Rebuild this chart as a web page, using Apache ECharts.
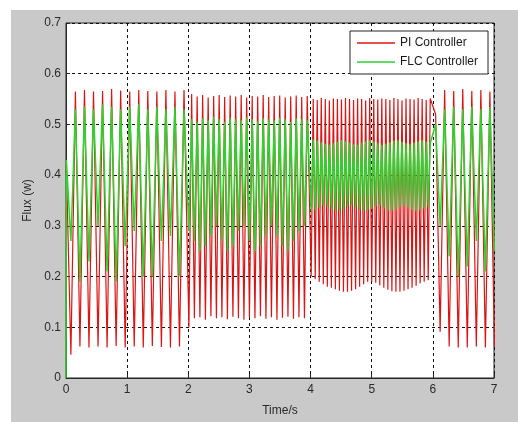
<!DOCTYPE html>
<html>
<head>
<meta charset="utf-8">
<script src="https://cdn.jsdelivr.net/npm/echarts@6/dist/echarts.min.js"></script>
<style>
  html, body { margin: 0; padding: 0; background: #fff; }
  #chart { width: 518px; height: 422px; }
</style>
</head>
<body>
<div id="chart"></div>
<script>
// time grid of each stretch of the run (s): first vertex and spacing between vertices
const segStart = [0.006, 2.01, 4.01, 6.045];
const segStep = [0.074, 0.045, 0.033, 0.074];

// value at t = 0
const piAtZero = 0.40;
const flcAtZero = 0.0;

// PI controller, vertex values, one array per stretch
const piSeg1 = [0.42, 0.046, 0.565, 0.062, 0.568, 0.060, 0.565, 0.062, 0.566, 0.060, 0.570, 0.063, 0.567, 0.060,
  0.565, 0.062, 0.568, 0.060, 0.566, 0.063, 0.565, 0.061, 0.568, 0.060, 0.565, 0.062, 0.568];
const piSeg2 = [0.100, 0.560, 0.118, 0.555, 0.120, 0.558, 0.115, 0.553, 0.122, 0.556, 0.118, 0.558, 0.120, 0.554,
  0.116, 0.557, 0.121, 0.555, 0.118, 0.558, 0.115, 0.553, 0.120, 0.556, 0.118, 0.555, 0.122, 0.558, 0.117, 0.554,
  0.120, 0.556, 0.115, 0.557, 0.119, 0.553, 0.121, 0.555, 0.117, 0.557, 0.120, 0.554, 0.118, 0.556];
const piSeg3 = [0.200, 0.550, 0.195, 0.548, 0.190, 0.552, 0.185, 0.550, 0.180, 0.547, 0.178, 0.551, 0.175, 0.550,
  0.172, 0.549, 0.170, 0.552, 0.170, 0.550, 0.172, 0.548, 0.175, 0.551, 0.180, 0.550, 0.185, 0.547, 0.190, 0.552,
  0.190, 0.550, 0.188, 0.549, 0.183, 0.551, 0.178, 0.550, 0.174, 0.548, 0.171, 0.552, 0.170, 0.550, 0.170, 0.547,
  0.172, 0.551, 0.175, 0.550, 0.178, 0.549, 0.182, 0.552, 0.187, 0.550, 0.190, 0.548, 0.193, 0.551];
const piSeg4 = [0.520, 0.091, 0.568, 0.062, 0.566, 0.060, 0.570, 0.060, 0.566, 0.062, 0.568, 0.060, 0.565, 0.062];

// FLC controller
const flcSeg1 = [0.43, 0.27, 0.53, 0.19, 0.535, 0.23, 0.53, 0.30, 0.54, 0.21, 0.535, 0.19, 0.53, 0.26,
  0.535, 0.29, 0.54, 0.20, 0.53, 0.20, 0.535, 0.27, 0.53, 0.28, 0.535, 0.20, 0.53];
const flcSeg2 = [0.29, 0.510, 0.27, 0.505, 0.25, 0.512, 0.26, 0.508, 0.28, 0.515, 0.30, 0.510, 0.27, 0.505,
  0.25, 0.512, 0.26, 0.510, 0.29, 0.508, 0.30, 0.514, 0.27, 0.510, 0.25, 0.506, 0.26, 0.512, 0.28, 0.510,
  0.30, 0.508, 0.28, 0.513, 0.26, 0.510, 0.25, 0.505, 0.27, 0.512, 0.29, 0.510, 0.30, 0.508];
const flcSeg3 = [0.330, 0.470, 0.332, 0.468, 0.336, 0.465, 0.340, 0.462, 0.338, 0.460, 0.334, 0.463, 0.331, 0.466,
  0.330, 0.469, 0.333, 0.467, 0.337, 0.464, 0.340, 0.461, 0.336, 0.460, 0.332, 0.464, 0.330, 0.467, 0.331, 0.469,
  0.334, 0.466, 0.338, 0.463, 0.340, 0.460, 0.335, 0.462, 0.331, 0.465, 0.330, 0.468, 0.333, 0.469, 0.337, 0.466,
  0.340, 0.463, 0.336, 0.461, 0.332, 0.464, 0.330, 0.467, 0.332, 0.469, 0.335, 0.466, 0.338, 0.463];
const flcSeg4 = [0.50, 0.30, 0.53, 0.24, 0.535, 0.20, 0.53, 0.22, 0.535, 0.27, 0.53, 0.21, 0.535, 0.25];

const piSegs = [piSeg1, piSeg2, piSeg3, piSeg4];
const flcSegs = [flcSeg1, flcSeg2, flcSeg3, flcSeg4];

const timeTicks = [0, 1, 2, 3, 4, 5, 6, 7];
const fluxTicks = [0, 0.1, 0.2, 0.3, 0.4, 0.5, 0.6, 0.7];

const toPoints = (atZero, segs) => {
  const pts = [[0, atZero]];
  segs.forEach((vals, s) => {
    vals.forEach((v, j) => {
      pts.push([+(segStart[s] + j * segStep[s]).toFixed(4), v]);
    });
  });
  return pts;
};

const chart = echarts.init(document.getElementById('chart'), null, { renderer: 'canvas' });

const font = 'Liberation Sans, Arial, sans-serif';
const red = '#dc1414';
const green = '#2ed12e';

chart.setOption({
  animation: false,
  backgroundColor: '#fff',
  graphic: [{
    type: 'rect', z: -100, silent: true,
    shape: { x: 11, y: 10, width: 507, height: 412 },
    style: { fill: '#c9c9c9' }
  }],
  grid: {
    left: 66, top: 23, right: 24, bottom: 38,
    show: true, backgroundColor: '#fff', borderColor: '#262626', borderWidth: 1
  },
  legend: {
    left: 350, top: 31, orient: 'vertical',
    icon: 'rect', itemWidth: 38, itemHeight: 1.4, itemGap: 7,
    padding: [6, 10, 6, 7],
    backgroundColor: '#fff', borderColor: '#262626', borderWidth: 1,
    textStyle: { fontFamily: font, fontSize: 12, color: '#1a1a1a', lineHeight: 12 },
    data: ['PI Controller', 'FLC Controller']
  },
  xAxis: {
    type: 'value', min: timeTicks[0], max: timeTicks[timeTicks.length - 1], interval: 1,
    name: 'Time/s', nameLocation: 'middle', nameGap: 27,
    nameTextStyle: { fontFamily: font, fontSize: 12, color: '#2a2a2a' },
    axisLine: { lineStyle: { color: '#262626' } },
    axisTick: { inside: true, length: 4, lineStyle: { color: '#262626' } },
    axisLabel: { fontFamily: font, fontSize: 12, color: '#2a2a2a', margin: 6 },
    splitLine: { show: true, lineStyle: { color: '#111', type: [3, 3], width: 1 } }
  },
  yAxis: {
    type: 'value', min: fluxTicks[0], max: fluxTicks[fluxTicks.length - 1], interval: 0.1,
    name: 'Flux (w)', nameLocation: 'middle', nameGap: 32,
    nameTextStyle: { fontFamily: font, fontSize: 12, color: '#2a2a2a' },
    axisLine: { show: true, lineStyle: { color: '#262626' } },
    axisTick: { show: true, inside: true, length: 4, lineStyle: { color: '#262626' } },
    axisLabel: { fontFamily: font, fontSize: 12, color: '#2a2a2a', margin: 5 },
    splitLine: { show: true, lineStyle: { color: '#111', type: [3, 3], width: 1 } }
  },
  series: [
    {
      name: 'PI Controller', type: 'line', symbol: 'none',
      lineStyle: { color: red, width: 1.2 }, itemStyle: { color: red },
      data: toPoints(piAtZero, piSegs)
    },
    {
      name: 'FLC Controller', type: 'line', symbol: 'none',
      lineStyle: { color: green, width: 1.5 }, itemStyle: { color: green },
      data: toPoints(flcAtZero, flcSegs)
    }
  ]
});
</script>
</body>
</html>
